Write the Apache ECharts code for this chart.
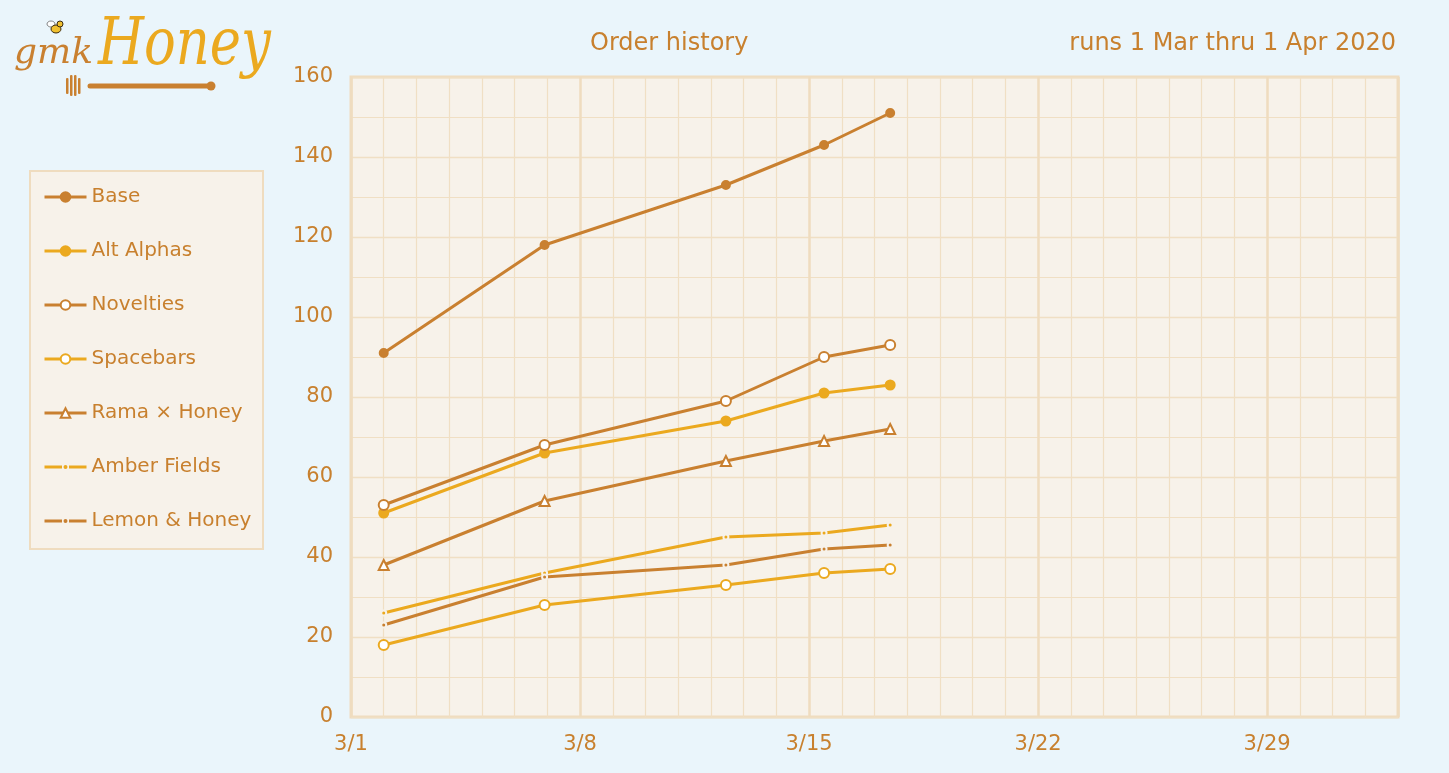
<!DOCTYPE html>
<html>
<head>
<meta charset="utf-8">
<script src="https://cdn.jsdelivr.net/npm/echarts@6/dist/echarts.min.js"></script>
<style>
html,body{margin:0;padding:0;background:#eaf5fb;}
#c{width:1449px;height:773px;}
</style>
</head>
<body>
<div id="c"></div>
<script>
// ---- data ----
const orderDates = ["2020-03-02 00:00", "2020-03-06 22:00", "2020-03-12 11:00", "2020-03-15 11:00", "2020-03-17 11:30"];
const seriesNames = ["Base", "Alt Alphas", "Novelties", "Spacebars", "Rama × Honey", "Amber Fields", "Lemon & Honey"];
const base        = [91, 118, 133, 143, 151];
const altAlphas   = [51, 66, 74, 81, 83];
const novelties   = [53, 68, 79, 90, 93];
const spacebars   = [18, 28, 33, 36, 37];
const ramaHoney   = [38, 54, 64, 69, 72];
const amberFields = [26, 36, 45, 46, 48];
const lemonHoney  = [23, 35, 38, 42, 43];
const yTicks = [0, 20, 40, 60, 80, 100, 120, 140, 160];
const xStart = "2020-03-01 00:00";
const xEnd   = "2020-04-02 00:00";

function toUTC(s){
  const [d,t] = s.split(" ");
  const [Y,M,D] = d.split("-").map(Number);
  const [h,m] = t.split(":").map(Number);
  return Date.UTC(Y, M-1, D, h, m);
}
const DAY = 86400000;
const t0 = toUTC(xStart);
const dayOf = s => (toUTC(s) - t0) / DAY;
const xDays = orderDates.map(dayOf);
const xMax = dayOf(xEnd);
function dayLabel(v){
  const d = new Date(t0 + Math.round(v) * DAY);
  return (d.getUTCMonth()+1) + "/" + d.getUTCDate();
}
const pairs = arr => arr.map((v,i)=>[xDays[i], v]);

const DARK = "#c98030";
const GOLD = "#eba91f";
const TXT = "#c8802e";
const PLOT = "#f7f2ea";
const GRID = "#f0dfc4";
const FONT = "'DejaVu Sans', 'Noto Sans', sans-serif";
const LW = 3;

function mk(name, data, color, symbol, size, extra){
  return Object.assign({
    name, type: "line", data: pairs(data), xAxisIndex: 0, yAxisIndex: 0,
    symbol, symbolSize: size, showSymbol: true,
    lineStyle: {color, width: LW},
    itemStyle: {color, borderColor: color, borderWidth: 2},
    emphasis: {disabled: true}
  }, extra || {});
}
const dotStyle = c => ({itemStyle: {color: c, borderColor: PLOT, borderWidth: 2}});
// legend icon: line - dot - line
const dashDotIcon = "path://M0,0 L0,0 Z M42,12 L42,12 Z M0,4.5 L17.5,4.5 L17.5,7.5 L0,7.5 Z M24.5,4.5 L42,4.5 L42,7.5 L24.5,7.5 Z M19,6 A2,2 0 1,0 23,6 A2,2 0 1,0 19,6 Z";

const chart = echarts.init(document.getElementById("c"), null, {renderer: "canvas"});
chart.setOption({
  animation: false,
  backgroundColor: "#eaf5fb",
  textStyle: {fontFamily: FONT},
  title: [
    {text: "Order history", left: 585, top: 27, textStyle: {color: TXT, fontSize: 24, fontWeight: "normal", fontFamily: FONT}},
    {text: "runs 1 Mar thru 1 Apr 2020", right: 48, top: 27, textStyle: {color: TXT, fontSize: 24, fontWeight: "normal", fontFamily: FONT}}
  ],
  legend: {
    orient: "vertical", left: 43, top: 186, padding: 0,
    itemWidth: 42, itemHeight: 12, itemGap: 32,
    lineStyle: {width: 3},
    textStyle: {color: TXT, fontSize: 20, fontFamily: FONT, lineHeight: 22},
    data: [
      {name: seriesNames[0]},
      {name: seriesNames[1]},
      {name: seriesNames[2]},
      {name: seriesNames[3]},
      {name: seriesNames[4]},
      {name: seriesNames[5], icon: dashDotIcon, itemStyle: {borderWidth: 0, color: GOLD}},
      {name: seriesNames[6], icon: dashDotIcon, itemStyle: {borderWidth: 0, color: DARK}}
    ]
  },
  grid: {left: 351, right: 51, top: 77, bottom: 56, show: true, backgroundColor: PLOT, borderColor: "#efdcbf", borderWidth: 3},
  xAxis: [
    {type: "value", min: 0, max: xMax, interval: 1,
     axisLine: {show: false}, axisTick: {show: false}, axisLabel: {show: false},
     splitLine: {show: true, lineStyle: {color: GRID, width: 1.2}}},
    {type: "value", min: 0, max: xMax, interval: 7, position: "bottom",
     axisLine: {show: false}, axisTick: {show: false},
     axisLabel: {show: true, margin: 17, color: TXT, fontSize: 21, fontFamily: FONT, showMaxLabel: false, formatter: dayLabel},
     splitLine: {show: true, lineStyle: {color: "#efdcbf", width: 2.5}}}
  ],
  yAxis: {
    type: "value", min: yTicks[0], max: yTicks[yTicks.length-1], interval: yTicks[1]-yTicks[0],
    axisLine: {show: false}, axisTick: {show: false},
    axisLabel: {margin: 18, color: TXT, fontSize: 21, fontFamily: FONT},
    splitLine: {show: true, lineStyle: {color: GRID, width: 1.3}},
    minorTick: {show: false, splitNumber: 2},
    minorSplitLine: {show: true, lineStyle: {color: GRID, width: 1.1}}
  },
  series: [
    mk(seriesNames[0], base, DARK, "circle", 8),
    mk(seriesNames[1], altAlphas, GOLD, "circle", 9),
    mk(seriesNames[2], novelties, DARK, "emptyCircle", 10, {itemStyle: {color: DARK, borderWidth: 2}}),
    mk(seriesNames[3], spacebars, GOLD, "emptyCircle", 10, {itemStyle: {color: GOLD, borderWidth: 2}}),
    mk(seriesNames[4], ramaHoney, DARK, "emptyTriangle", 10, {itemStyle: {color: DARK, borderWidth: 2}}),
    mk(seriesNames[5], amberFields, GOLD, "circle", 5, dotStyle(GOLD)),
    mk(seriesNames[6], lemonHoney, DARK, "circle", 5, dotStyle(DARK))
  ],
  graphic: [
    // legend box
    {type: "rect", left: 29, top: 170, z: -1, shape: {width: 233, height: 378}, style: {fill: PLOT, stroke: "#efdcbf", lineWidth: 2}, silent: true},
    // logo
    {type: "text", x: 14, y: 36, style: {text: "gmk", font: "italic 36px 'DejaVu Serif', serif", fill: DARK, shadowColor: "#3a2a10", shadowOffsetX: 1.5, shadowOffsetY: 1.5, shadowBlur: 0}},
    {type: "text", x: 98, y: 14, scaleX: 0.8, style: {text: "Honey", font: "italic 66px 'DejaVu Serif', serif", fill: "#eba91f", shadowColor: "#3a2a10", shadowOffsetX: 2, shadowOffsetY: 2, shadowBlur: 0}},
    {type: "line", shape: {x1: 90, y1: 86, x2: 210, y2: 86}, style: {stroke: DARK, lineWidth: 5, lineCap: "round"}},
    {type: "circle", shape: {cx: 211, cy: 86, r: 4.5}, style: {fill: DARK}},
    {type: "rect", shape: {x: 66, y: 78, width: 2.5, height: 16, r: 1}, style: {fill: DARK}},
    {type: "rect", shape: {x: 70, y: 75, width: 2.5, height: 21, r: 1}, style: {fill: DARK}},
    {type: "rect", shape: {x: 74, y: 75, width: 2.5, height: 21, r: 1}, style: {fill: DARK}},
    {type: "rect", shape: {x: 78, y: 78, width: 2.5, height: 16, r: 1}, style: {fill: DARK}},
    // bee
    {type: "ellipse", shape: {cx: 51, cy: 24, rx: 4, ry: 3}, style: {fill: "#ffffff", stroke: "#666", lineWidth: 0.8}},
    {type: "ellipse", shape: {cx: 56, cy: 29, rx: 5, ry: 4}, style: {fill: "#f0c030", stroke: "#3a2a10", lineWidth: 1}},
    {type: "circle", shape: {cx: 60, cy: 24, r: 3}, style: {fill: "#f0c030", stroke: "#3a2a10", lineWidth: 1}}
  ]
});
</script>
</body>
</html>
